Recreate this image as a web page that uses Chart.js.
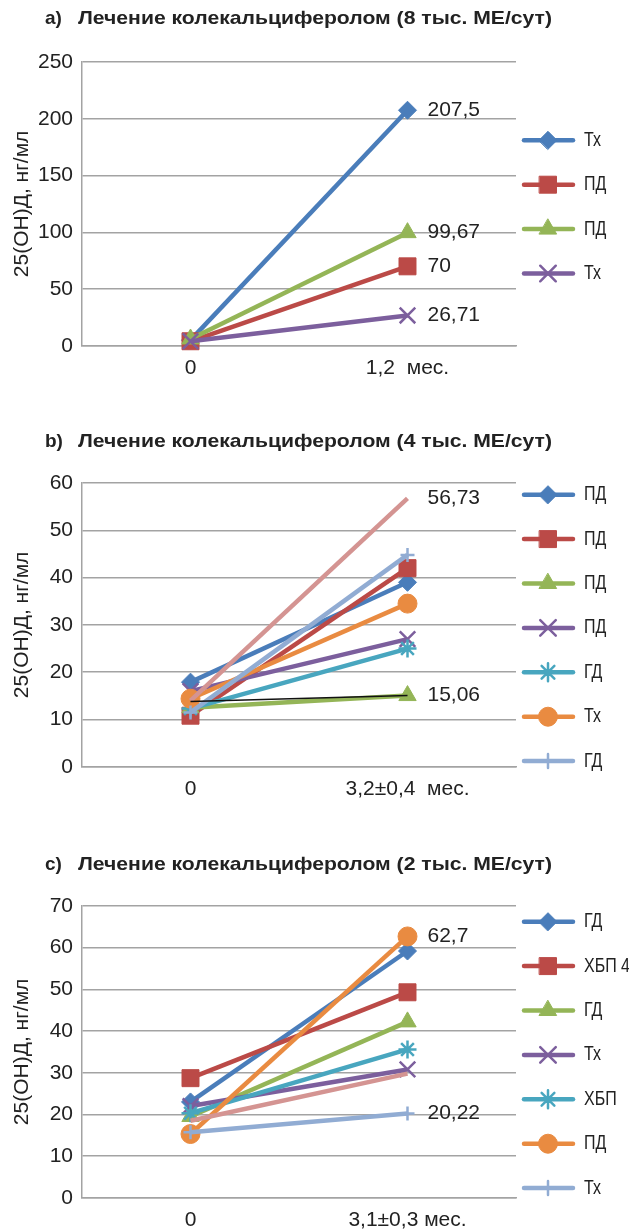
<!DOCTYPE html>
<html>
<head>
<meta charset="utf-8">
<script src="https://cdn.jsdelivr.net/npm/chart.js@4.4.0/dist/chart.umd.min.js"></script>
<style>
  html, body { margin: 0; padding: 0; background: #fff; overflow: hidden; }
  .box { position: absolute; left: 0; width: 629px; }
</style>
</head>
<body>
<div class="box" style="top:0;height:400px"><canvas id="chartA"></canvas></div>
<div class="box" style="top:400px;height:415px"><canvas id="chartB"></canvas></div>
<div class="box" style="top:815px;height:428px"><canvas id="chartC"></canvas></div>
<script>
// a) 8 тыс. МЕ/сут
const aCategories = ['0', '1,2  мес.'];
const aNames  = ['Тх', 'ПД', 'ПД', 'Тх'];
const aStart  = [5, 4, 6, 4];
const aEnd    = [207.5, 70, 99.67, 26.71];
const aLabeled = [0, 1, 2, 3];
const aTicks  = [0, 50, 100, 150, 200, 250];

// b) 4 тыс. МЕ/сут
const bCategories = ['0', '3,2±0,4  мес.'];
const bNames  = ['ПД', 'ПД', 'ПД', 'ПД', 'ГД', 'Тх', 'ГД'];
const bStart  = [17.9, 10.8, 12.5, 16, 12.3, 14.4, 11.5];
const bEnd    = [39, 42, 15.06, 27, 25, 34.5, 44.8];
const bPink   = [14, 56.73];
const bBlack  = [13.8, 15.06];
const bLabeled = [2, 'pink'];
const bTicks  = [0, 10, 20, 30, 40, 50, 60];

// c) 2 тыс. МЕ/сут
const cCategories = ['0', '3,1±0,3 мес.'];
const cNames  = ['ГД', 'ХБП 4', 'ГД', 'Тх', 'ХБП', 'ПД', 'Тх'];
const cStart  = [23, 28.7, 19.5, 22, 20.3, 15.3, 15.7];
const cEnd    = [59.2, 49.3, 42.2, 30.8, 35.6, 62.7, 20.22];
const cPink   = [18.5, 29.8];
const cLabeled = [5, 6];
const cTicks  = [0, 10, 20, 30, 40, 50, 60, 70];

const COLORS = ['#4a7dba', '#bb4a47', '#94b557', '#7c5f9d', '#48a6bf', '#e98b41', '#91acd3'];
const STYLES = ['rectRot', 'rect', 'triangle', 'crossRot', 'star', 'circle', 'cross'];
const RADII  = [9, 12, 10, 11, 9, 9.5, 7];
const PINK = '#d49492';
const TEXT = '#222';
const GRID = '#a3a3a3';
const FONT = '"Liberation Sans", Arial, sans-serif';

const panelTitle = {
  id: 'panelTitle',
  afterDraw(chart, args, opts) {
    const ctx = chart.ctx;
    ctx.save();
    ctx.fillStyle = TEXT;
    ctx.font = 'bold 19px ' + FONT;
    ctx.textBaseline = 'middle';
    ctx.fillText(opts.letter, 45, opts.y);
    const w = ctx.measureText(opts.text).width;
    ctx.translate(78, opts.y);
    ctx.scale(474 / w, 1);
    ctx.fillText(opts.text, 0, 0);
    ctx.restore();
  }
};

const sideLegend = {
  id: 'sideLegend',
  afterDraw(chart) {
    const ctx = chart.ctx;
    const items = chart.data.datasets.filter(d => d.inLegend);
    const mid = (chart.chartArea.top + chart.chartArea.bottom) / 2 + 3;
    items.forEach((d, i) => {
      const y = mid + (i - (items.length - 1) / 2) * 44.4;
      ctx.save();
      ctx.strokeStyle = d.borderColor;
      ctx.lineWidth = 4.5;
      ctx.lineCap = 'round';
      ctx.beginPath();
      ctx.moveTo(524, y);
      ctx.lineTo(573, y);
      ctx.stroke();
      ctx.fillStyle = d.pointBackgroundColor;
      ctx.strokeStyle = d.pointBorderColor;
      ctx.lineWidth = d.pointBorderWidth;
      Chart.helpers.drawPoint(ctx, {
        pointStyle: d.pointStyle, radius: d.pointRadius,
        borderWidth: d.pointBorderWidth, rotation: 0
      }, 548, y);
      ctx.fillStyle = TEXT;
      ctx.font = '20px ' + FONT;
      ctx.textBaseline = 'middle';
      ctx.translate(584, y);
      ctx.scale(0.8, 1);
      ctx.fillText(d.label, 0, 0);
      ctx.restore();
    });
  }
};

const endLabels = {
  id: 'endLabels',
  afterDatasetsDraw(chart) {
    const ctx = chart.ctx;
    chart.data.datasets.forEach((d, i) => {
      if (!d.endLabel) return;
      const pts = chart.getDatasetMeta(i).data;
      const p = pts[pts.length - 1];
      const v = d.data[d.data.length - 1];
      ctx.save();
      ctx.fillStyle = TEXT;
      ctx.font = '21px ' + FONT;
      ctx.textBaseline = 'middle';
      ctx.fillText(String(v).replace('.', ','), p.x + 20, p.y);
      ctx.restore();
    });
  }
};

function series(names, start, end, labeled) {
  return names.map((n, i) => {
    const cross = ['crossRot', 'star', 'cross'].includes(STYLES[i]);
    return {
      label: n,
      data: [start[i], end[i]],
      borderColor: COLORS[i],
      borderWidth: 4.5,
      pointStyle: STYLES[i],
      pointRadius: RADII[i],
      pointHoverRadius: RADII[i],
      pointBackgroundColor: COLORS[i],
      pointBorderColor: COLORS[i],
      pointBorderWidth: cross ? 2.5 : 1,
      clip: false,
      order: -i,
      inLegend: true,
      endLabel: labeled.includes(i),
    };
  });
}

function extraLine(label, values, color, width, order, withLabel) {
  return {
    label, data: values, borderColor: color, borderWidth: width,
    pointRadius: 0, pointHoverRadius: 0, clip: false, order,
    inLegend: false, endLabel: withLabel,
  };
}

function makeChart(id, categories, datasets, ticks, title, pad) {
  new Chart(document.getElementById(id), {
    type: 'line',
    data: { labels: categories, datasets },
    options: {
      responsive: true,
      maintainAspectRatio: false,
      animation: false,
      events: [],
      layout: { padding: { top: pad.top, right: 113, bottom: pad.bottom, left: 0 } },
      scales: {
        x: {
          offset: true,
          grid: { display: false, drawTicks: false },
          border: { color: GRID, width: 1.5 },
          ticks: { color: TEXT, font: { size: 21, family: FONT }, padding: 10, maxRotation: 0 },
        },
        y: {
          min: ticks[0], max: ticks[ticks.length - 1],
          afterFit: s => { s.width = 82; },
          afterBuildTicks: s => { s.ticks = ticks.map(v => ({ value: v })); },
          grid: { color: GRID, lineWidth: 1.5, drawTicks: false },
          border: { color: GRID, width: 1.5 },
          ticks: { color: TEXT, font: { size: 21, family: FONT }, padding: 9 },
          title: {
            display: true, text: '25(ОН)Д, нг/мл', color: TEXT,
            font: { size: 21, family: FONT }, padding: { top: 10, bottom: 0 },
          },
        },
      },
      plugins: {
        legend: { display: false },
        tooltip: { enabled: false },
        panelTitle: title,
      },
    },
    plugins: [panelTitle, sideLegend, endLabels],
  });
}

makeChart('chartA', aCategories, series(aNames, aStart, aEnd, aLabeled), aTicks,
  { letter: 'a)', text: 'Лечение колекальциферолом (8 тыс. МЕ/сут)', y: 19 },
  { top: 62, bottom: 9 });

makeChart('chartB', bCategories, [
    ...series(bNames, bStart, bEnd, bLabeled),
    extraLine('pink', bPink, PINK, 4.5, -7, bLabeled.includes('pink')),
    extraLine('black', bBlack, '#111', 1.5, -8, false),
  ], bTicks,
  { letter: 'b)', text: 'Лечение колекальциферолом (4 тыс. МЕ/сут)', y: 42 },
  { top: 83, bottom: 3 });

makeChart('chartC', cCategories, [
    ...series(cNames, cStart, cEnd, cLabeled),
    extraLine('pink', cPink, PINK, 4.5, -7, false),
  ], cTicks,
  { letter: 'c)', text: 'Лечение колекальциферолом (2 тыс. МЕ/сут)', y: 50 },
  { top: 91, bottom: 0 });
</script>
</body>
</html>
